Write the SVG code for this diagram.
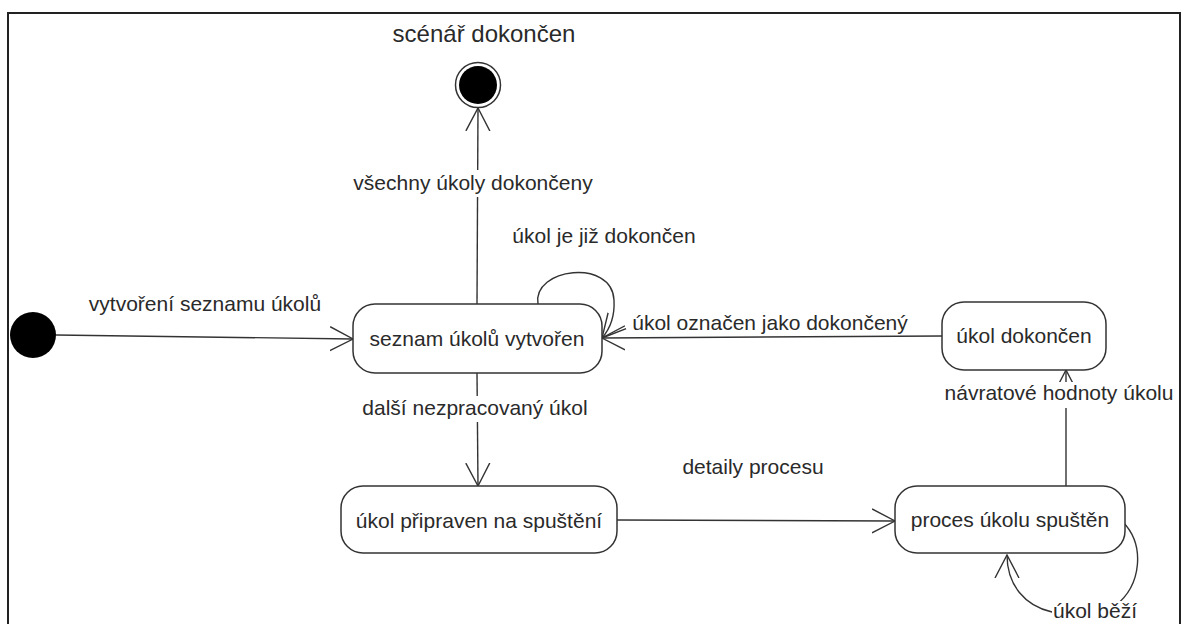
<svg xmlns="http://www.w3.org/2000/svg" width="1184" height="624" viewBox="0 0 1184 624">
  <defs>
    <style>
      .frame { fill: #ffffff; stroke: #222222; stroke-width: 2; }
      .state { fill: #ffffff; stroke: #333333; stroke-width: 1.5; }
      .edge { fill: none; stroke: #333333; stroke-width: 1.4; }
      .txt { font-family: "Liberation Sans", Arial, sans-serif; font-size: 21px; fill: #2a2a2a; text-anchor: middle; }
      .title { font-size: 24px; }
      .bg { fill: #ffffff; stroke: none; }
    </style>
    <marker id="open" viewBox="0 0 24 26" refX="23" refY="13" markerWidth="24" markerHeight="26" markerUnits="userSpaceOnUse" orient="auto">
      <path d="M0,1 L23,13 L0,25" fill="none" stroke="#333333" stroke-width="1.4"/>
    </marker>
  </defs>

  <!-- diagram frame -->
  <rect class="frame" x="8" y="13" width="1172" height="640"/>

  <!-- transitions -->
  <g id="connectors">
    <line class="edge" x1="56" y1="335" x2="353" y2="339" marker-end="url(#open)"/>
    <line class="edge" x1="477" y1="304" x2="478" y2="108" marker-end="url(#open)"/>
    <path class="edge" d="M538,304 C532,268 612,258 614,300 C615,318 609,330 602,338" marker-end="url(#open)"/>
    <line class="edge" x1="942" y1="336" x2="602" y2="338" marker-end="url(#open)"/>
    <line class="edge" x1="477" y1="373" x2="478" y2="486" marker-end="url(#open)"/>
    <line class="edge" x1="617" y1="520" x2="895" y2="521" marker-end="url(#open)"/>
    <line class="edge" x1="1066" y1="486" x2="1066" y2="370" marker-end="url(#open)"/>
    <path class="edge" d="M1123,522 C1145,545 1142,585 1115,606 C1095,618 1065,615 1052,612 C1025,606 1007,585 1007,555" marker-end="url(#open)"/>

    <!-- transition labels -->
    <text class="txt" x="205" y="311">vytvoření seznamu úkolů</text>
    <rect class="bg" x="352" y="170" width="242" height="27"/>
    <text class="txt" x="473" y="190">všechny úkoly dokončeny</text>
    <text class="txt" x="604" y="243">úkol je již dokončen</text>
    <text class="txt" x="770" y="330">úkol označen jako dokončený</text>
    <rect class="bg" x="940" y="382" width="238" height="26"/>
    <text class="txt" x="1059" y="400">návratové hodnoty úkolu</text>
    <rect class="bg" x="364" y="396" width="224" height="26"/>
    <text class="txt" x="475" y="415">další nezpracovaný úkol</text>
    <text class="txt" x="753" y="474">detaily procesu</text>
    <rect class="bg" x="1052" y="601" width="86" height="23"/>
    <text class="txt" x="1095" y="618">úkol běží</text>
  </g>

  <!-- initial pseudostate -->
  <g id="start">
    <circle cx="33" cy="335" r="23" fill="#000000"/>
  </g>

  <!-- final state -->
  <g id="end">
    <text class="txt title" x="484" y="42">scénář dokončen</text>
    <circle cx="478" cy="85" r="22.5" fill="#ffffff" stroke="#333333" stroke-width="1.5"/>
    <circle cx="478" cy="85" r="19" fill="#000000"/>
  </g>

  <g id="seznam-vytvoren">
    <rect class="state" x="353" y="304" width="249" height="69" rx="22" ry="22"/>
    <text class="txt" x="477" y="346">seznam úkolů vytvořen</text>
  </g>

  <g id="ukol-dokoncen">
    <rect class="state" x="942" y="302" width="164" height="68" rx="22" ry="22"/>
    <text class="txt" x="1024" y="343">úkol dokončen</text>
  </g>

  <g id="ukol-pripraven">
    <rect class="state" x="341" y="486" width="276" height="67" rx="22" ry="22"/>
    <text class="txt" x="479" y="528">úkol připraven na spuštění</text>
  </g>

  <g id="proces-spusten">
    <rect class="state" x="895" y="486" width="230" height="67" rx="22" ry="22"/>
    <text class="txt" x="1010" y="527">proces úkolu spuštěn</text>
  </g>
</svg>
